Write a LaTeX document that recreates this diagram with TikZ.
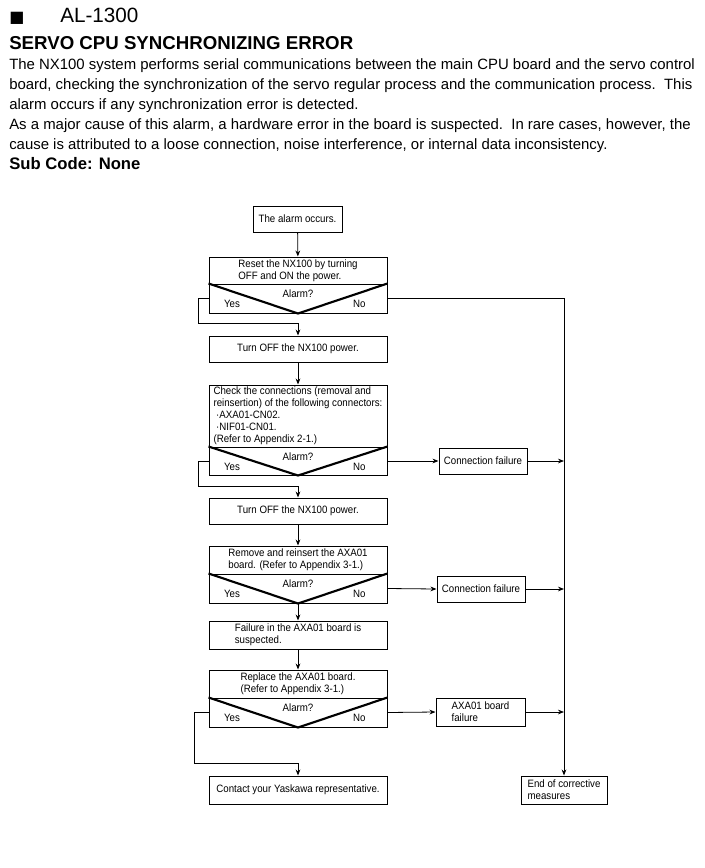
\documentclass[tikz,border=0pt]{standalone}
\usepackage{fontspec}
\setmainfont{Liberation Sans}
\newfontfamily\symbolfont{DejaVu Sans}
\newfontfamily\chartfont[FakeStretch=0.91]{Liberation Sans}
\usetikzlibrary{arrows.meta,positioning}
\tikzset{
  flow/.style={->,>={Stealth[length=4.5pt,width=3.5pt]},line width=0.6pt},
  line/.style={line width=0.6pt},
  stepbox/.style={draw,line width=0.75pt,minimum width=133.5pt,inner sep=0pt,
    align=left,font=\chartfont\fontsize{8}{9}\selectfont},
  sidebox/.style={stepbox,minimum width=66pt},
  vee/.style={line width=1.6pt},
  answer/.style={font=\chartfont\fontsize{8}{9}\selectfont,inner sep=0pt},
  headline/.style={anchor=base west,inner sep=0pt},
  bodytext/.style={headline,font=\fontsize{11.2}{15}\selectfont},
}
\begin{document}
\begin{tikzpicture}[x=0.75pt,y=-0.75pt]
  \useasboundingbox (0,0) rectangle (705,868);
  % heading and description
  \node[headline,font=\symbolfont\fontsize{12}{12}\selectfont] (mark) at (9,22) {■};
  \node[headline,font=\fontsize{15.5}{16}\selectfont] (code) at (60,22) {AL-1300};
  \node[headline,font=\bfseries\fontsize{14}{16}\selectfont] (title) at (9,49) {SERVO CPU SYNCHRONIZING ERROR};
  \node[bodytext] (l1) at (9,69) {The NX100 system performs serial communications between the main CPU board and the servo control};
  \node[bodytext] (l2) at (9,89) {board, checking the synchronization of the servo regular process and the communication process.\ \ This};
  \node[bodytext] (l3) at (9,109) {alarm occurs if any synchronization error is detected.};
  \node[bodytext] (l4) at (9,129) {As a major cause of this alarm, a hardware error in the board is suspected.\ \ In rare cases, however, the};
  \node[bodytext] (l5) at (9,149) {cause is attributed to a loose connection, noise interference, or internal data inconsistency.};
  \node[headline,font=\bfseries\fontsize{12.5}{15}\selectfont] (sub) at (9,169) {Sub Code: None};

  % flow chart
  \node[stepbox,minimum width=66.75pt,minimum height=19.5pt] (alarm) at (297.5,219) {The alarm occurs.};
  \node[stepbox,minimum height=20.25pt] (reset) at (298,270.5) {Reset the NX100 by turning\\OFF and ON the power.};
  \node[stepbox,minimum height=21.75pt] (q1) at (298,298.5) {};
  \node[stepbox,minimum height=19.5pt] (off1) at (298,349) {Turn OFF the NX100 power.};
  \node[stepbox,minimum height=46.5pt] (check) at (298,416) {Check the connections (removal and\\reinsertion) of the following connectors:\\\hspace*{2pt}·AXA01-CN02.\\\hspace*{2pt}·NIF01-CN01.\\(Refer to Appendix 2-1.)};
  \node[stepbox,minimum height=21pt] (q2) at (298,461) {};
  \node[sidebox,minimum height=19.5pt] (cf1) at (483,461) {Connection failure};
  \node[stepbox,minimum height=19.5pt] (off2) at (298,511) {Turn OFF the NX100 power.};
  \node[stepbox,minimum height=21pt] (remove) at (298,560) {Remove and reinsert the AXA01\\board. (Refer to Appendix 3-1.)};
  \node[stepbox,minimum height=21.75pt] (q3) at (298,588.5) {};
  \node[sidebox,minimum height=19.5pt] (cf2) at (481,589) {Connection failure};
  \node[stepbox,minimum height=21pt] (suspect) at (298,635) {Failure in the AXA01 board is\\suspected.};
  \node[stepbox,minimum height=21pt] (replace) at (298,684) {Replace the AXA01 board.\\(Refer to Appendix 3-1.)};
  \node[stepbox,minimum height=21.75pt] (q4) at (298,712.5) {};
  \node[sidebox,minimum height=21pt,minimum width=66.75pt] (bfail) at (480.5,712) {AXA01 board\\failure};
  \node[stepbox,minimum height=21pt] (contact) at (298,790) {Contact your Yaskawa representative.};
  \node[sidebox,minimum height=21pt,minimum width=64.5pt] (done) at (564,790) {End of corrective\\measures};

  \foreach \q in {q1,q2,q3,q4} {
    \draw[vee] (\q.north west) -- (\q.south) -- (\q.north east);
    \node[answer] (ask-\q) at ([yshift=3.4pt]\q.center) {Alarm?};
    \node[answer] (yes-\q) at ([xshift=-49.5pt,yshift=-4.1pt]\q.center) {Yes};
    \node[answer] (no-\q) at ([xshift=46pt,yshift=-4.1pt]\q.center) {No};
  }

  \coordinate (j1) at (298,323);
  \coordinate (j2) at (298,486);
  \coordinate (j4) at (298,763);

  \draw[flow] (alarm) -- (reset);
  \draw[flow] (q1.west) -- ++(-10,0) |- (j1) -- (off1.north);
  \draw[flow] (q1.east) -| (done.north);
  \draw[flow] (off1) -- (check);
  \draw[flow] (q2.east) -- (cf1.west);
  \draw[flow] (cf1.east) -- (cf1.east -| done.north);
  \draw[flow] (q2.west) -- ++(-10,0) |- (j2) -- (off2.north);
  \draw[flow] (off2) -- (remove);
  \draw[flow] (q3.east) -- (cf2.west);
  \draw[flow] (cf2.east) -- (cf2.east -| done.north);
  \draw[flow] (q3.south) -- (suspect.north);
  \draw[flow] (suspect) -- (replace);
  \draw[flow] (q4.east) -- (bfail.west);
  \draw[flow] (bfail.east) -- (bfail.east -| done.north);
  \draw[flow] (q4.west) -- ++(-14,0) |- (j4) -- (contact.north);
\end{tikzpicture}
\end{document}
